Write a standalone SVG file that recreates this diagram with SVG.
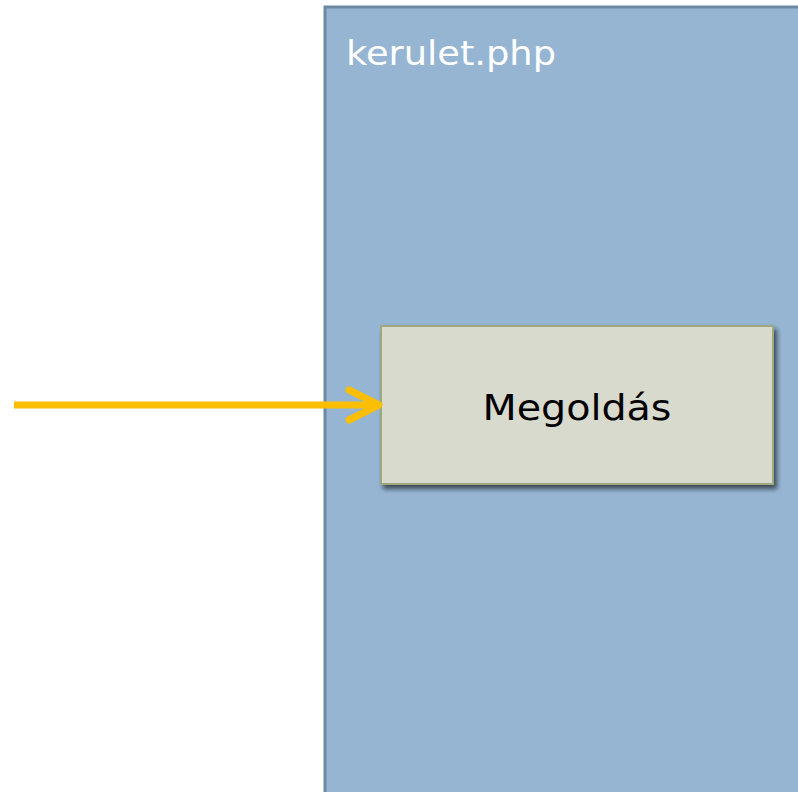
<svg xmlns="http://www.w3.org/2000/svg" width="798" height="792" viewBox="0 0 798 792">
  <defs>
    <style>
      .page { fill: #95b5d3; stroke: #6d89a2; stroke-width: 3; }
      .page-title { font-family: "DejaVu Sans", "Liberation Sans", sans-serif; font-size: 34px; fill: #ffffff; }
      .step { fill: #d9dace; stroke: #9fa77e; stroke-width: 2; }
      .step-label { font-family: "DejaVu Sans", "Liberation Sans", sans-serif; font-size: 35px; fill: #000000; text-anchor: middle; }
      .flow { fill: none; stroke: #fbbe00; stroke-width: 7; stroke-linecap: round; stroke-linejoin: round; }
    </style>
    <filter id="drop" x="-10%" y="-10%" width="125%" height="130%">
      <feGaussianBlur in="SourceAlpha" stdDeviation="2.5"/>
      <feOffset dx="3" dy="4" result="blur"/>
      <feComponentTransfer><feFuncA type="linear" slope="0.6"/></feComponentTransfer>
      <feMerge><feMergeNode/><feMergeNode in="SourceGraphic"/></feMerge>
    </filter>
  </defs>

  <rect width="798" height="792" fill="#ffffff"/>

  <!-- file container -->
  <g id="kerulet-php">
    <rect class="page" x="325" y="7" width="480" height="800"/>
    <text class="page-title" x="346" y="65" textLength="210" lengthAdjust="spacingAndGlyphs">kerulet.php</text>
  </g>

  <!-- processing step -->
  <g id="megoldas">
    <rect class="step" x="381" y="326" width="392" height="158" filter="url(#drop)"/>
    <text class="step-label" x="577" y="420" textLength="189" lengthAdjust="spacingAndGlyphs">Megoldás</text>
  </g>

  <!-- incoming request -->
  <g id="connectors">
    <path class="flow" d="M14 405 H376" style="stroke-linecap: butt"/>
    <path class="flow" d="M349 390 L379 405 L349 420"/>
  </g>
</svg>
